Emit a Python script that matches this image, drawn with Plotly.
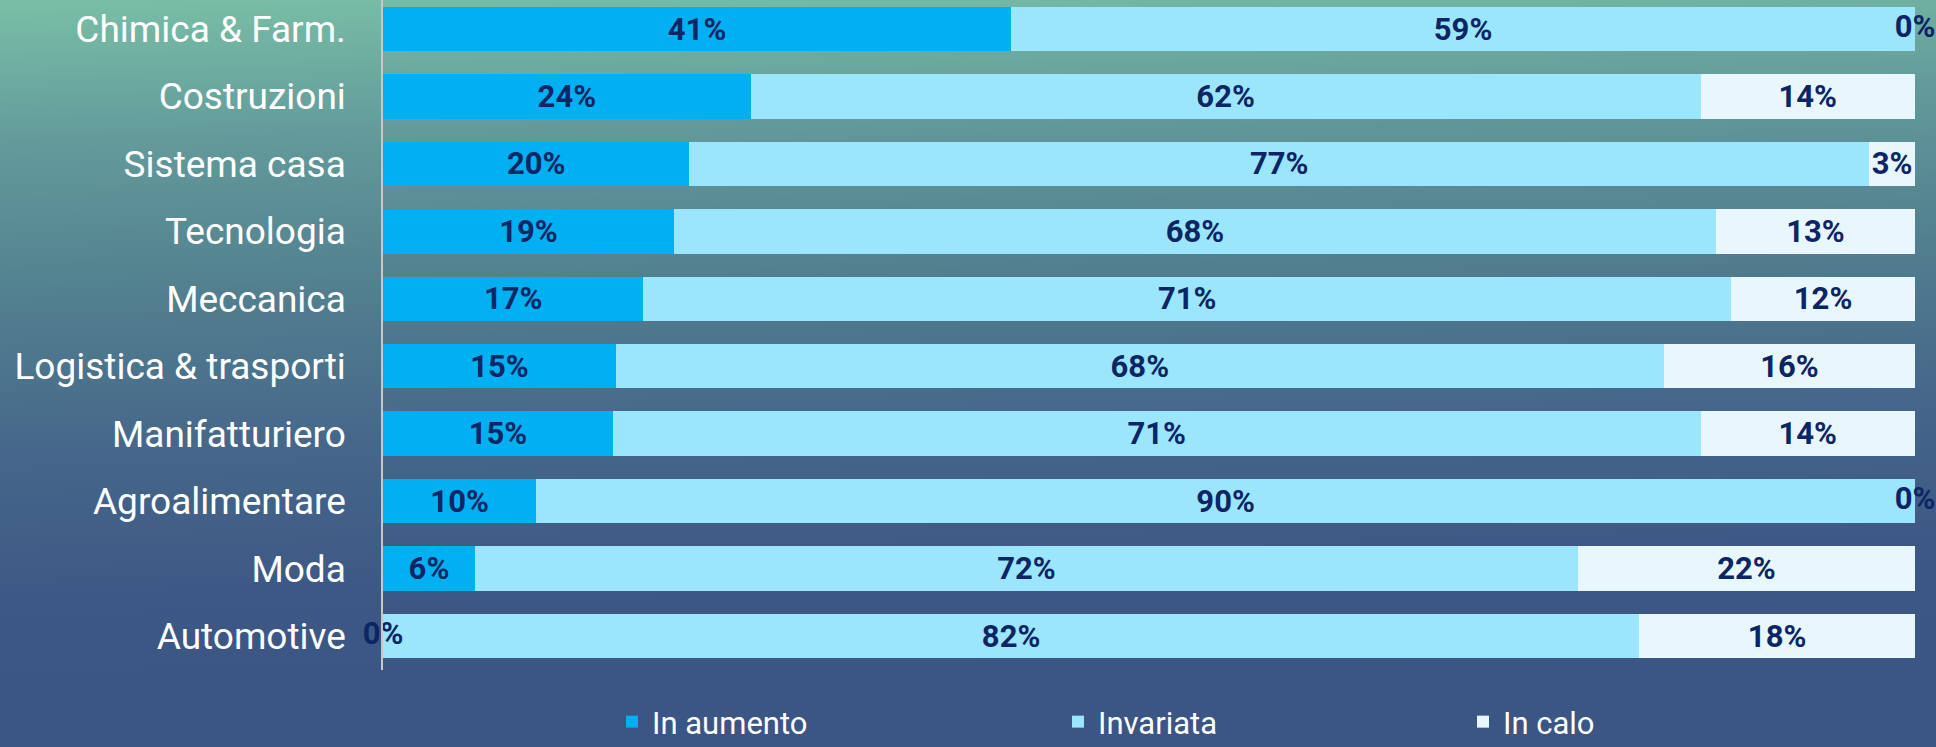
import base64
import plotly.graph_objects as go

categories = ["Chimica & Farm.", "Costruzioni", "Sistema casa", "Tecnologia", "Meccanica",
              "Logistica & trasporti", "Manifatturiero", "Agroalimentare", "Moda", "Automotive"]
in_aumento = [41, 24, 20, 19, 17, 15.2, 15, 10, 6, 0]
invariata = [59, 62, 77, 68, 71, 68.4, 71, 90, 72, 82]
in_calo = [0, 14, 3, 13, 12, 16.4, 14, 0, 22, 18]
series_names = ["In aumento", "Invariata", "In calo"]
series_colors = ["#00b0f0", "#9be5fd", "#e8f7fe"]

W, H = 1936, 747
ML, MR, MT, MB = 383, 21, 0, 77

# background gradient (as an SVG image)
stops = [(0.0, "#79bfa6"), (0.2, "#62999a"), (0.4, "#527f8f"), (0.6, "#46678a"),
         (0.8, "#3d5885"), (1.0, "#3b5584")]
stop_xml = "".join(f'<stop offset="{o}" stop-color="{c}"/>' for o, c in stops)
svg = (f'<svg xmlns="http://www.w3.org/2000/svg" width="{W}" height="{H}" viewBox="0 0 {W} {H}" '
       f'preserveAspectRatio="none"><defs><linearGradient id="g" x1="0" y1="0" x2="0.08" y2="1">'
       f'{stop_xml}</linearGradient></defs><rect width="{W}" height="{H}" fill="url(#g)"/></svg>')
bg_src = "data:image/svg+xml;base64," + base64.b64encode(svg.encode()).decode()

pw = W - ML - MR
ph = H - MT - MB

label_font = dict(family="Roboto", size=31, color="#0c2665", weight="bold")

fig = go.Figure()
legends = ["legend", "legend2", "legend3"]
all_series = [in_aumento, invariata, in_calo]
for name, vals, col, lg in zip(series_names, all_series, series_colors, legends):
    fig.add_trace(go.Bar(
        y=categories, x=vals, name=name, orientation="h",
        marker=dict(color=col, line=dict(width=0)),
        texttemplate="%{x:.0f}%", textposition="inside", insidetextanchor="middle",
        textfont=label_font, cliponaxis=False, legend=lg, hoverinfo="skip",
    ))

# labels for zero-width segments (plotly does not draw text on empty bars)
zx, zy, zt = [], [], []
for i, cat in enumerate(categories):
    start = 0
    for vals in all_series:
        if vals[i] == 0:
            zx.append(start)
            zy.append(cat)
            zt.append(f"{vals[i]:.0f}%")
        start += vals[i]
fig.add_trace(go.Scatter(x=zx, y=zy, text=zt, mode="text", textposition="middle center",
                         textfont=label_font, cliponaxis=False, showlegend=False,
                         hoverinfo="skip"))

legend_x = [612, 1058, 1463]
common_leg = dict(orientation="h", xref="container", yref="container", xanchor="left",
                  yanchor="middle", y=1 - 722 / H, bgcolor="rgba(0,0,0,0)",
                  font=dict(family="Roboto", size=31, color="white"))

fig.update_layout(
    width=W, height=H,
    margin=dict(l=ML, r=MR, t=MT, b=MB, pad=0),
    paper_bgcolor="#4a6c8a", plot_bgcolor="rgba(0,0,0,0)",
    barmode="stack", bargap=0.34,
    uniformtext=dict(mode="show", minsize=31),
    showlegend=True,
    legend=dict(x=legend_x[0] / W, **common_leg),
    legend2=dict(x=legend_x[1] / W, **common_leg),
    legend3=dict(x=legend_x[2] / W, **common_leg),
    xaxis=dict(range=[0, 100], showgrid=False, zeroline=False, showticklabels=False,
               showline=False, fixedrange=True),
    yaxis=dict(categoryorder="array", categoryarray=categories,
               range=[9.504, -0.43], showgrid=False, zeroline=False,
               showline=True, linecolor="#c8c8c8", linewidth=1.5,
               ticks="", ticklabelstandoff=28,
               tickfont=dict(family="Roboto", size=37, color="white")),
    images=[dict(source=bg_src, xref="paper", yref="paper",
                 x=-ML / pw, y=1 + MT / ph, sizex=W / pw, sizey=H / ph,
                 xanchor="left", yanchor="top", sizing="stretch", layer="below")],
)

fig.write_html("out.html", config={"displayModeBar": False},
               post_script="document.body.style.margin='0px';document.body.style.overflow='hidden';")
